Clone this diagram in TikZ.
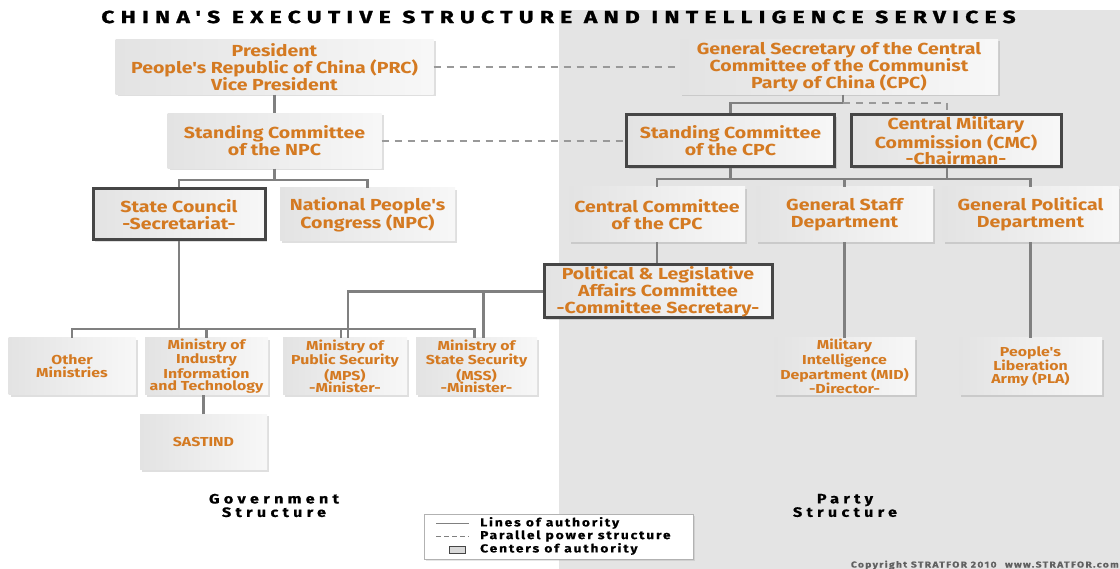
\documentclass[tikz,border=0pt]{standalone}
\usepackage{fontspec}
\setmainfont{Fira Sans}
\newfontfamily\unitfont[FakeStretch=1.22]{Fira Sans}
\newfontfamily\titlefont[LetterSpace=36, FakeStretch=1.3, FakeBold=1.4]{Fira Sans}
\newfontfamily\labelfont[LetterSpace=32, FakeStretch=1.2, FakeBold=0.6]{Fira Sans}
\newfontfamily\legendfont[LetterSpace=16, FakeStretch=1.2, FakeBold=0.4]{Fira Sans}
\usetikzlibrary{shadows,positioning}

\definecolor{stratorange}{RGB}{212,122,34}
\definecolor{partygrey}{RGB}{228,228,228}
\definecolor{linegrey}{RGB}{128,128,128}

\tikzset{
  unit/.style={align=center, text=stratorange, inner sep=0pt,
    font=\unitfont\bfseries\fontsize{16}{16.8}\selectfont,
    left color=gray!22, right color=gray!6,
    drop shadow={opacity=0.25, shadow xshift=2pt, shadow yshift=-2pt}},
  smallunit/.style={unit, font=\unitfont\bfseries\fontsize{13}{12.7}\selectfont},
  authority/.style={draw=gray!55!black, line width=3pt},
  solidline/.style={draw=linegrey, line width=2.4pt},
  parallelline/.style={draw=gray!80, line width=2pt, dash pattern=on 7pt off 6pt},
  structlabel/.style={align=center, font=\labelfont\bfseries\fontsize{13.5}{13.5}\selectfont}
}

\begin{document}
\begin{tikzpicture}[x=1pt, y=-1pt]
    \useasboundingbox (0,0) rectangle (1120,569);
    \fill[partygrey] (559,10) rectangle (1120,569);% Party side
    \node[font=\titlefont\bfseries\fontsize{17.5}{18}\selectfont] (title) at (558.5,17) {CHINA'S EXECUTIVE STRUCTURE AND INTELLIGENCE SERVICES};

    % Government side
    \node[unit, minimum width=318pt, minimum height=55pt] (pres) at (274.5,67) {President\\People's Republic of China (PRC)\\Vice President};
    \node[unit, minimum width=214pt, minimum height=55pt] (npcsc) at (274.5,141) {Standing Committee\\of the NPC};
    \node[unit, authority, minimum width=172pt, minimum height=51pt] (stc) at (179,214.5) {State Council\\-Secretariat-};
    \node[unit, minimum width=175pt, minimum height=53pt] (npc) at (367.5,214.5) {National People's\\Congress (NPC)};
    \node[smallunit, minimum width=127pt, minimum height=57pt] (other) at (72,366.5) {Other\\Ministries};
    \node[smallunit, minimum width=123pt, minimum height=57pt] (miit) at (206.5,366.5) {Ministry of\\Industry\\Information\\and Technology};
    \node[smallunit, minimum width=124pt, minimum height=57pt] (mps) at (345,366.5) {Ministry of\\Public Security\\(MPS)\\-Minister-};
    \node[smallunit, minimum width=121pt, minimum height=57pt] (mss) at (476.5,366.5) {Ministry of\\State Security\\(MSS)\\-Minister-};
    \node[smallunit, minimum width=127pt, minimum height=55pt] (sastind) at (203.5,442) {SASTIND};

    % Party side
    \node[unit, minimum width=318pt, minimum height=55pt] (gensec) at (839,67) {General Secretary of the Central\\Committee of the Communist\\Party of China (CPC)};
    \node[unit, authority, minimum width=208pt, minimum height=52pt] (cpcsc) at (730.5,141) {Standing Committee\\of the CPC};
    \node[unit, authority, minimum width=210pt, minimum height=52pt] (cmc) at (956,141) {Central Military\\Commission (CMC)\\-Chairman-};
    \node[unit, minimum width=176pt, minimum height=55pt] (cccpc) at (657,214.5) {Central Committee\\of the CPC};
    \node[unit, minimum width=177pt, minimum height=55pt] (gsd) at (844.5,214.5) {General Staff\\Department};
    \node[unit, minimum width=176pt, minimum height=55pt] (gpd) at (1030.5,214.5) {General Political\\Department};
    \node[unit, authority, minimum width=228pt, minimum height=53pt] (plac) at (658,291.5) {Political \& Legislative\\Affairs Committee\\-Committee Secretary-};
    \node[smallunit, minimum width=141pt, minimum height=57pt] (mid) at (844.5,366.5) {Military\\Intelligence\\Department (MID)\\-Director-};
    \node[smallunit, minimum width=143pt, minimum height=57pt] (pla) at (1030.5,366.5) {People's\\Liberation\\Army (PLA)};

    % branch points
    \coordinate (gsjoin)  at (843,103);
    \coordinate (npcjoin) at (274.5,180);
    \coordinate (cpcjoin) at (730.5,179);
    \coordinate (scjoin)  at (178,329);

    % lines of authority
    \draw[solidline] (pres.south) -- (pres.south |- npcsc.north);
    \draw[solidline] (npcsc.south) -- (npcjoin);
    \draw[solidline] (stc.north) |- (npcjoin) -| (npc.north);
    \draw[solidline] (gensec.south -| gsjoin) -- (gsjoin) -| (cpcsc.north);
    \draw[solidline] (cpcsc.south) -- (cpcjoin);
    \draw[solidline] ([xshift=-9pt]cmc.south) -- ([xshift=-9pt]cmc.south |- cpcjoin);
    \draw[solidline] (cccpc.north) |- (cpcjoin) -| (gpd.north);
    \draw[solidline] (gsd.north) -- (gsd.north |- cpcjoin);
    \draw[solidline] (cccpc.south) -- (cccpc.south |- plac.north);
    \draw[solidline] (gsd.south) -- (mid.north);
    \draw[solidline] (gpd.south) -- (pla.north);
    \draw[solidline] (stc.south) -- (stc.south |- scjoin);
    \draw[solidline] (other.north) |- ([xshift=-2pt]mss.north |- scjoin) -- ([xshift=-2pt]mss.north);
    \foreach \m/\dx in {miit/0, mps/-4}{% ticks down to the ministries
        \draw[solidline] ([xshift=\dx pt]\m.north) -- ([xshift=\dx pt]\m.north |- scjoin);
    }
    \draw[solidline] (plac.west) -| ([xshift=3pt]mps.north);
    \draw[solidline] ([xshift=7pt]mss.north) -- ([xshift=7pt]mss.north |- plac.west);
    \draw[solidline] (sastind.north) -- (sastind.north |- miit.south);

    % parallel power structure
    \draw[parallelline] (pres) -- (gensec);
    \draw[parallelline] (npcsc) -- (cpcsc);
    \draw[parallelline] (gsjoin) -| ([xshift=-9pt]cmc.north);

    % side labels
    \node[structlabel] (govlabel) at (274,505.5) {Government\\Structure};
    \node[structlabel] (partylabel) at (845,505.5) {Party\\Structure};

    % legend
    \node[draw=gray!60, fill=white, minimum width=269pt, minimum height=45pt,
          drop shadow={opacity=0.2, shadow xshift=1.5pt, shadow yshift=-1.5pt}] (legend) at (558.5,536.5) {};
    \draw[linegrey, line width=1pt] (436,523) -- (469,523);
    \draw[linegrey, line width=1pt, dash pattern=on 5pt off 3pt] (436,536) -- (469,536);
    \draw[draw=gray!55!black, fill=gray!30, line width=0.8pt] (449,546) rectangle (465,553);
    \foreach \y/\t in {523/Lines of authority, 536/Parallel power structure, 549/Centers of authority}{%
        \node[anchor=west, inner sep=0pt, font=\legendfont\bfseries\fontsize{11.5}{11.5}\selectfont] at (480,\y) {\t};
    }

    \node[anchor=east, inner sep=0pt, text=gray!75!black, font=\legendfont\bfseries\fontsize{8.5}{8.5}\selectfont] (copyright) at (1119,565) {Copyright STRATFOR 2010\quad www.STRATFOR.com};
\end{tikzpicture}
\end{document}
